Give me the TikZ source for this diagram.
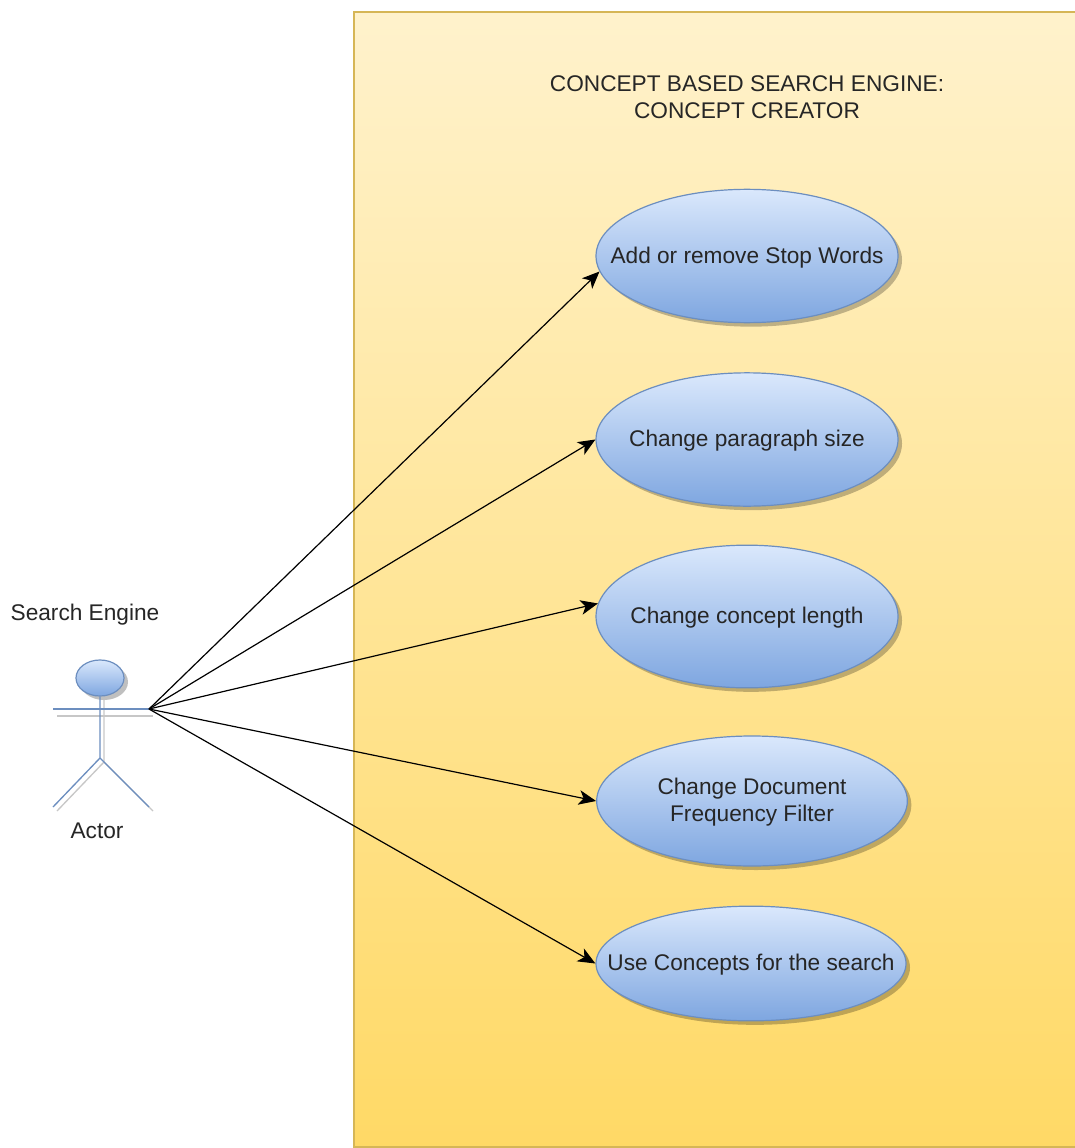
\documentclass[tikz,border=0pt]{standalone}
\usepackage{fontspec}
\setmainfont{Liberation Sans}
\usetikzlibrary{positioning}
\usetikzlibrary{arrows.meta}
\usetikzlibrary{shapes.geometric}
\usetikzlibrary{shadows}

\definecolor{yellowtop}{HTML}{FFF2CC}
\definecolor{yellowbot}{HTML}{FFD966}
\definecolor{yellowline}{HTML}{D6B656}
\definecolor{bluetop}{HTML}{DAE8FC}
\definecolor{bluebot}{HTML}{7EA6E0}
\definecolor{blueline}{HTML}{6C8EBF}

\tikzset{
  usecase/.style={ellipse, draw=blueline, line width=0.9pt, top color=bluetop, bottom color=bluebot,
    inner xsep=-40pt, inner ysep=-12pt, align=center, text=black!85, text depth=1.5pt,
    font=\fontsize{17}{20}\selectfont,
    drop shadow={shadow xshift=3pt, shadow yshift=-3pt, fill=black, opacity=0.25}},
  label/.style={align=center, inner sep=0pt, text=black!85, text depth=1.5pt,
    font=\fontsize{17}{20}\selectfont},
  limb/.style={draw=blueline, line width=1pt},
  limbshadow/.style={draw=black!22, line width=1pt},
  assoc/.style={draw=black, line width=0.9pt, -{Stealth[length=13pt, width=11pt, inset=3.5pt]}}
}

\begin{document}
\begin{tikzpicture}[x=0.75pt, y=-0.75pt]
  \useasboundingbox (0,0) rectangle (1074,1148);

  % system box
  \draw[draw=yellowline, line width=1pt, top color=yellowtop, bottom color=yellowbot] (354,12) rectangle (1080,1147);
  \node[label] (title) at (747,98) {CONCEPT BASED SEARCH ENGINE:\\CONCEPT CREATOR};

  % use cases
  \node[usecase, minimum width=226.5pt, minimum height=100pt] (stop) at (747,256) {Add or remove Stop Words};
  \node[usecase, minimum width=226.5pt, minimum height=100pt] (para) at (747,439.5) {Change paragraph size};
  \node[usecase, minimum width=226.5pt, minimum height=107pt] (length) at (747,616.5) {Change concept length};
  \node[usecase, minimum width=233pt, minimum height=97.5pt] (freq) at (752,801) {Change Document\\Frequency Filter};
  \node[usecase, minimum width=232.5pt, minimum height=86pt] (search) at (751,963.5) {Use Concepts for the search};

  % actor
  \draw[limbshadow] (57,716) -- (153,716);
  \draw[limbshadow] (104,700) -- (104,762) -- (57,811);
  \draw[limbshadow] (104,762) -- (153,811);
  \node[usecase, minimum width=36pt, minimum height=27pt] (head) at (100,678) {};
  \coordinate (neck) at (100,696);
  \coordinate (hip) at (100,758);
  \coordinate (lefthand) at (53,709);
  \coordinate (hand) at (149,709);
  \coordinate (leftfoot) at (53,807);
  \coordinate (rightfoot) at (149,807);
  \draw[limb] (lefthand) -- (hand);
  \draw[limb] (head.south) -- (hip) -- (leftfoot);
  \draw[limb] (hip) -- (rightfoot);
  \node[label] (name) at (85,613) {Search Engine};
  \node[label] (actor) at (97,832) {Actor};

  % associations
  \foreach \target in {stop.186, para.west, length.175, freq.west, search.west}
    {\draw[assoc] (hand) -- (\target);}
\end{tikzpicture}
\end{document}
